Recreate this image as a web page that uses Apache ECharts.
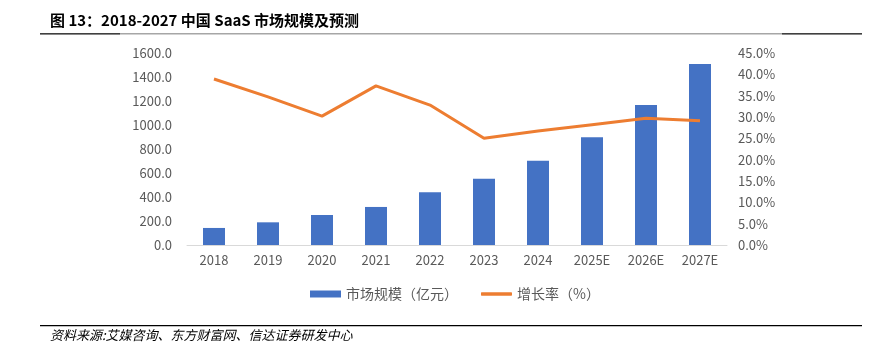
<!DOCTYPE html>
<html>
<head>
<meta charset="utf-8">
<script src="https://cdn.jsdelivr.net/npm/echarts@6/dist/echarts.min.js"></script>
<style>
  html, body { margin: 0; padding: 0; background: #fff; }
  #chart { width: 878px; height: 354px; }
</style>
</head>
<body>
<div id="chart"></div>
<script>
var years = ['2018', '2019', '2020', '2021', '2022', '2023', '2024', '2025E', '2026E', '2027E'];
var marketSize = [142, 189, 250, 317, 439, 553, 703, 898, 1167, 1508];
var growthRate = [38.9, 34.7, 30.2, 37.3, 32.8, 25.0, 26.7, 28.2, 29.7, 29.1];

var dom = document.getElementById('chart');
var myChart = echarts.init(dom);
var font = '"Noto Sans CJK SC", "Liberation Sans", sans-serif';

var option = {
    animation: false,
    textStyle: { fontFamily: font },
    graphic: [
        { type: 'text', left: 50, top: 13, style: { text: '图 13：2018-2027 中国 SaaS 市场规模及预测', font: 'bold 15px ' + font, fill: '#000' } },
        { type: 'rect', shape: { x: 40, y: 33, width: 822, height: 1.5 }, style: { fill: '#a6a6a6' } },
        { type: 'rect', shape: { x: 40, y: 33, width: 80, height: 1.5 }, style: { fill: '#404040' } },
        { type: 'rect', shape: { x: 782, y: 33, width: 80, height: 1.5 }, style: { fill: '#404040' } },
        { type: 'rect', shape: { x: 40, y: 325, width: 822, height: 1.2 }, style: { fill: '#000' } },
        { type: 'text', left: 50, top: 329, style: { text: '资料来源:艾媒咨询、东方财富网、信达证券研发中心', font: 'italic 13px ' + font, fill: '#000' } }
    ],
    legend: {
        left: 305,
        top: 282,
        itemWidth: 31,
        itemHeight: 7,
        itemGap: 23,
        textStyle: { color: '#595959', fontSize: 14, fontFamily: font },
        data: [
            { name: '市场规模（亿元）', icon: 'rect' },
            { name: '增长率（%）', icon: 'path://M2,0 L98,0 Q100,0 100,2 L100,9 Q100,11 98,11 L2,11 Q0,11 0,9 L0,2 Q0,0 2,0 Z' }
        ]
    },
    grid: { left: 187, right: 151, top: 53, bottom: 109 },
    xAxis: [{
        type: 'category',
        data: years,
        axisLine: { lineStyle: { color: '#d9d9d9', width: 1 } },
        axisTick: { show: false },
        axisLabel: { color: '#595959', fontSize: 13, margin: 9 }
    }],
    yAxis: [
        {
            type: 'value',
            min: 0, max: 1600, interval: 200,
            splitLine: { show: false },
            axisLine: { show: false },
            axisTick: { show: false },
            axisLabel: { color: '#595959', fontSize: 13, margin: 15, formatter: function (v) { return v.toFixed(1); } }
        },
        {
            type: 'value',
            min: 0, max: 45, interval: 5,
            splitLine: { show: false },
            axisLine: { show: false },
            axisTick: { show: false },
            axisLabel: { color: '#595959', fontSize: 13, margin: 11, formatter: function (v) { return v.toFixed(1) + '%'; } }
        }
    ],
    series: [
        {
            name: '市场规模（亿元）',
            type: 'bar',
            data: marketSize,
            barWidth: 22,
            itemStyle: { color: '#4472C4' }
        },
        {
            name: '增长率（%）',
            type: 'line',
            yAxisIndex: 1,
            data: growthRate,
            symbol: 'none',
            lineStyle: { color: '#ED7D31', width: 3 },
            itemStyle: { color: '#ED7D31' }
        }
    ]
};
myChart.setOption(option, true);
window.onresize = myChart.resize;
</script>
</body>
</html>
